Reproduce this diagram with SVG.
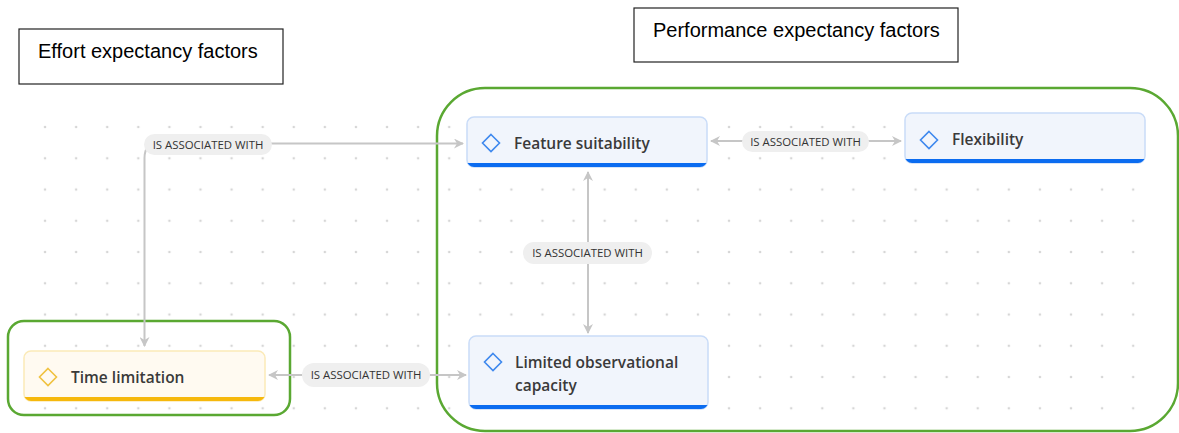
<svg xmlns="http://www.w3.org/2000/svg" width="1179" height="433" viewBox="0 0 1179 433">
  <defs>
    <style>
      .title { font-family: "Liberation Sans", Arial, sans-serif; font-size: 20px; fill: #000; }
      .titlebox { fill: #fff; stroke: #222; stroke-width: 1.2; }
      .frame { fill: none; stroke: #5aa832; stroke-width: 2.5; }
      .conn { fill: none; stroke: #c6c6c6; stroke-width: 2; }
      .pill { fill: #efefef; }
      .plabel { font-family: "Open Sans", "Noto Sans", sans-serif; font-size: 11.4px; fill: #333; text-anchor: middle; }
      .nodeB { fill: #f1f5fc; stroke: #c9dcf8; stroke-width: 1.5; }
      .nodeY { fill: #fffaf1; stroke: #fbeab8; stroke-width: 1.5; }
      .barB { fill: #0b6cf0; }
      .barY { fill: #f6b80c; }
      .diaB { fill: none; stroke: #3e88ee; stroke-width: 1.6; }
      .diaY { fill: none; stroke: #f0c240; stroke-width: 1.6; }
      .ntext { font-family: "Open Sans", "Noto Sans", sans-serif; font-size: 15.5px; font-weight: 600; fill: #3a3a3a; }
    </style>
    <pattern id="dots" patternUnits="userSpaceOnUse" x="29.5" y="111.4" width="31.09" height="31.25">
      <circle cx="15.545" cy="15.625" r="1.3" fill="#d6d6d6"/>
    </pattern>
    <marker id="arr" viewBox="0 0 10 10" refX="9" refY="5" markerWidth="5" markerHeight="5" orient="auto-start-reverse" markerUnits="strokeWidth">
      <path d="M0,0 L10,5 L0,10 L3,5 Z" fill="#c6c6c6"/>
    </marker>
    <clipPath id="cFeature"><rect x="467" y="117" width="240" height="50" rx="7"/></clipPath>
    <clipPath id="cFlex"><rect x="905" y="113" width="240" height="50" rx="7"/></clipPath>
    <clipPath id="cTime"><rect x="24" y="351" width="241" height="50" rx="7"/></clipPath>
    <clipPath id="cLim"><rect x="469" y="336" width="239" height="73" rx="7"/></clipPath>
  </defs>

  <rect width="1179" height="433" fill="#fff"/>
  <rect x="29.5" y="111.4" width="1119.2" height="312.5" fill="url(#dots)"/>

  <g id="effort-title">
    <rect class="titlebox" x="19" y="29" width="264" height="55"/>
    <text class="title" x="38" y="58">Effort expectancy factors</text>
  </g>
  <g id="performance-title">
    <rect class="titlebox" x="634" y="8" width="324" height="54"/>
    <text class="title" x="653" y="37">Performance expectancy factors</text>
  </g>

  <g id="frames">
    <rect class="frame" x="437" y="88" width="741" height="343" rx="48"/>
    <rect class="frame" x="8" y="321" width="282" height="94" rx="16"/>
  </g>

  <g id="connectors">
    <path class="conn" d="M463,143.5 H158 Q144.5,143.5 144.5,158 V346" marker-start="url(#arr)" marker-end="url(#arr)"/>
    <rect class="pill" x="144" y="134" width="128" height="21" rx="10.5"/>
    <text class="plabel" x="208" y="148.5">IS ASSOCIATED WITH</text>

    <path class="conn" d="M711,141 H901" marker-start="url(#arr)" marker-end="url(#arr)"/>
    <rect class="pill" x="742" y="131" width="127" height="21" rx="10.5"/>
    <text class="plabel" x="805.5" y="145.5">IS ASSOCIATED WITH</text>

    <path class="conn" d="M588,172 V333" marker-start="url(#arr)" marker-end="url(#arr)"/>
    <rect class="pill" x="523" y="242" width="129" height="22" rx="11"/>
    <text class="plabel" x="587.5" y="257">IS ASSOCIATED WITH</text>

    <path class="conn" d="M269,375 H466" marker-start="url(#arr)" marker-end="url(#arr)"/>
    <rect class="pill" x="302" y="363" width="128" height="24" rx="12"/>
    <text class="plabel" x="366" y="379">IS ASSOCIATED WITH</text>
  </g>

  <g id="node-feature">
    <rect class="nodeB" x="467" y="117" width="240" height="50" rx="7"/>
    <rect class="barB" x="467" y="163" width="240" height="5" clip-path="url(#cFeature)"/>
    <path class="diaB" d="M491,134.5 L499.5,143 L491,151.5 L482.5,143 Z"/>
    <text class="ntext" x="514" y="149">Feature suitability</text>
  </g>

  <g id="node-flexibility">
    <rect class="nodeB" x="905" y="113" width="240" height="50" rx="7"/>
    <rect class="barB" x="905" y="159" width="240" height="5" clip-path="url(#cFlex)"/>
    <path class="diaB" d="M929,131.5 L937.5,140 L929,148.5 L920.5,140 Z"/>
    <text class="ntext" x="952" y="145">Flexibility</text>
  </g>

  <g id="node-time">
    <rect class="nodeY" x="24" y="351" width="241" height="50" rx="7"/>
    <rect class="barY" x="24" y="397" width="241" height="5" clip-path="url(#cTime)"/>
    <path class="diaY" d="M48,368.5 L56.5,377 L48,385.5 L39.5,377 Z"/>
    <text class="ntext" x="71" y="383">Time limitation</text>
  </g>

  <g id="node-limited">
    <rect class="nodeB" x="469" y="336" width="239" height="73" rx="7"/>
    <rect class="barB" x="469" y="405" width="239" height="5" clip-path="url(#cLim)"/>
    <path class="diaB" d="M493,353.5 L501.5,362 L493,370.5 L484.5,362 Z"/>
    <text class="ntext" x="515" y="368">Limited observational</text>
    <text class="ntext" x="515" y="391">capacity</text>
  </g>
</svg>
